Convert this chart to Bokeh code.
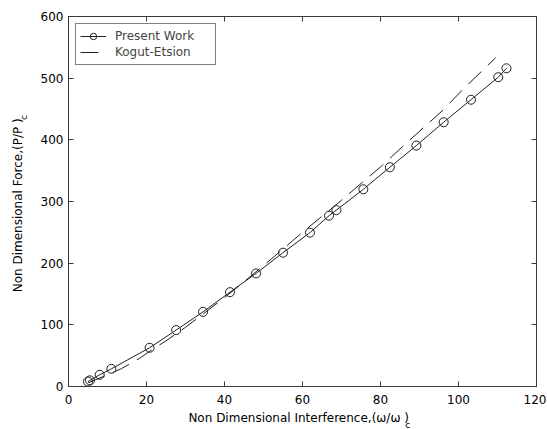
from bokeh.plotting import figure
from bokeh.models import LinearAxis, Range1d, Legend, LegendItem, FixedTicker
from bokeh.embed import file_html
from bokeh.resources import INLINE

# ---- data ----
present_x = [5.0, 5.5, 8.0, 11.0, 20.8, 27.6, 34.5, 41.4, 48.1, 55.0, 61.9,
             66.8, 68.7, 75.6, 82.4, 89.2, 96.2, 103.2, 110.2, 112.3]
present_y = [8, 10, 19, 28.7, 62.8, 91.5, 121, 153, 183.4, 217, 249.5,
             277, 286, 319.8, 355.5, 390.7, 428.6, 465, 501.6, 516]

kogut_x = [5, 10, 13.6, 18.3, 22, 25, 30, 40, 50, 60, 70, 77, 80, 86, 96, 101, 109.5]
kogut_y = [6, 19, 29, 46, 62, 74, 96, 144, 196, 250, 302, 340, 356, 391, 448, 481, 533]

x_ticks = [0, 20, 40, 60, 80, 100, 120]
y_ticks = [0, 100, 200, 300, 400, 500, 600]

series_names = ["Present Work", "Kogut-Etsion"]
x_title = "Non Dimensional Interference,(\u03c9/\u03c9   )"
y_title = "Non Dimensional Force,(P/P   )"
sub_c = "c"
x_sub_at = 87.0    # where the subscript c of the x title sits (data x)
y_sub_at = 436     # where the subscript c of the y title sits (data y)

FONT = "DejaVu Sans"
AXC = "#3a3a3a"
INK = "#202020"

p = figure(frame_width=468, frame_height=370,
           x_range=Range1d(0, 120), y_range=Range1d(0, 600),
           x_axis_location=None, y_axis_location=None,
           output_backend="svg", toolbar_location=None,
           min_border_left=68, min_border_right=10,
           min_border_top=16, min_border_bottom=40,
           background_fill_color="white", border_fill_color="white")

p.xgrid.visible = False
p.ygrid.visible = False
p.outline_line_color = AXC
p.outline_line_width = 1


def tick_axis(ticks, show_labels, standoff):
    ax = LinearAxis(ticker=FixedTicker(ticks=ticks))
    ax.axis_line_color = AXC
    ax.major_tick_line_color = AXC
    ax.major_tick_in = 5
    ax.major_tick_out = 0
    ax.minor_tick_line_color = None
    ax.major_label_text_font = FONT
    if show_labels:
        ax.major_label_text_font_size = "12px"
        ax.major_label_text_color = "black"
        ax.major_label_standoff = standoff
    else:
        ax.major_label_text_font_size = "0px"
        ax.major_label_text_color = None
        ax.major_label_standoff = 0
    return ax


def text_axis(tick, txt, size, standoff, orientation="horizontal"):
    ax = LinearAxis(ticker=FixedTicker(ticks=[tick], minor_ticks=[]))
    ax.axis_line_color = None
    ax.major_tick_line_color = None
    ax.minor_tick_line_color = None
    ax.major_tick_in = 0
    ax.major_tick_out = 0
    ax.major_label_overrides = {tick: txt}
    ax.major_label_text_font = FONT
    ax.major_label_text_font_size = size
    ax.major_label_text_color = "black"
    ax.major_label_standoff = standoff
    ax.major_label_orientation = orientation
    return ax


def title_axis(txt, standoff):
    ax = LinearAxis(ticker=FixedTicker(ticks=[]))
    ax.axis_line_color = None
    ax.major_tick_line_color = None
    ax.minor_tick_line_color = None
    ax.major_tick_in = 0
    ax.major_tick_out = 0
    ax.major_label_text_font_size = "0px"
    ax.major_label_standoff = 0
    ax.axis_label = txt
    ax.axis_label_text_font = FONT
    ax.axis_label_text_font_size = "12px"
    ax.axis_label_text_font_style = "normal"
    ax.axis_label_text_color = "black"
    ax.axis_label_standoff = standoff
    return ax


# bottom: ticks + title, then subscript c
xb = tick_axis(x_ticks, True, 8)
xb.axis_label = x_title
xb.axis_label_text_font = FONT
xb.axis_label_text_font_size = "12px"
xb.axis_label_text_font_style = "normal"
xb.axis_label_text_color = "black"
xb.axis_label_standoff = 4
p.add_layout(xb, "below")
p.add_layout(text_axis(x_sub_at, sub_c, "9px", -8), "below")

# left: ticks, then subscript c, then title
p.add_layout(tick_axis(y_ticks, True, 5), "left")
p.add_layout(text_axis(y_sub_at, sub_c, "9px", 8, "vertical"), "left")
p.add_layout(title_axis(y_title, -8), "left")

# top / right: ticks only
p.add_layout(tick_axis(x_ticks, False, 0), "above")
p.add_layout(tick_axis(y_ticks, False, 0), "right")

# ---- series ----
r_pw_line = p.line(present_x, present_y, line_color=INK, line_width=1)
r_pw_pts = p.scatter(present_x, present_y, marker="circle", size=9,
                     line_color=INK, line_width=1, fill_color=None)
r_ke = p.line(kogut_x, kogut_y, line_color=INK, line_width=1, line_dash="18 9")

legend = Legend(items=[LegendItem(label=series_names[0], renderers=[r_pw_line, r_pw_pts]),
                       LegendItem(label=series_names[1], renderers=[r_ke])],
                location="top_left")
legend.margin = 7
legend.padding = 4
legend.spacing = 0
legend.glyph_width = 26
legend.glyph_height = 16
legend.label_height = 16
legend.label_width = 96
legend.label_standoff = 9
legend.label_text_font = FONT
legend.label_text_font_size = "12px"
legend.border_line_color = "black"
legend.border_line_width = 1
legend.background_fill_color = "white"
legend.background_fill_alpha = 1
p.add_layout(legend, "center")

open("out.html", "w").write(file_html(p, INLINE))
